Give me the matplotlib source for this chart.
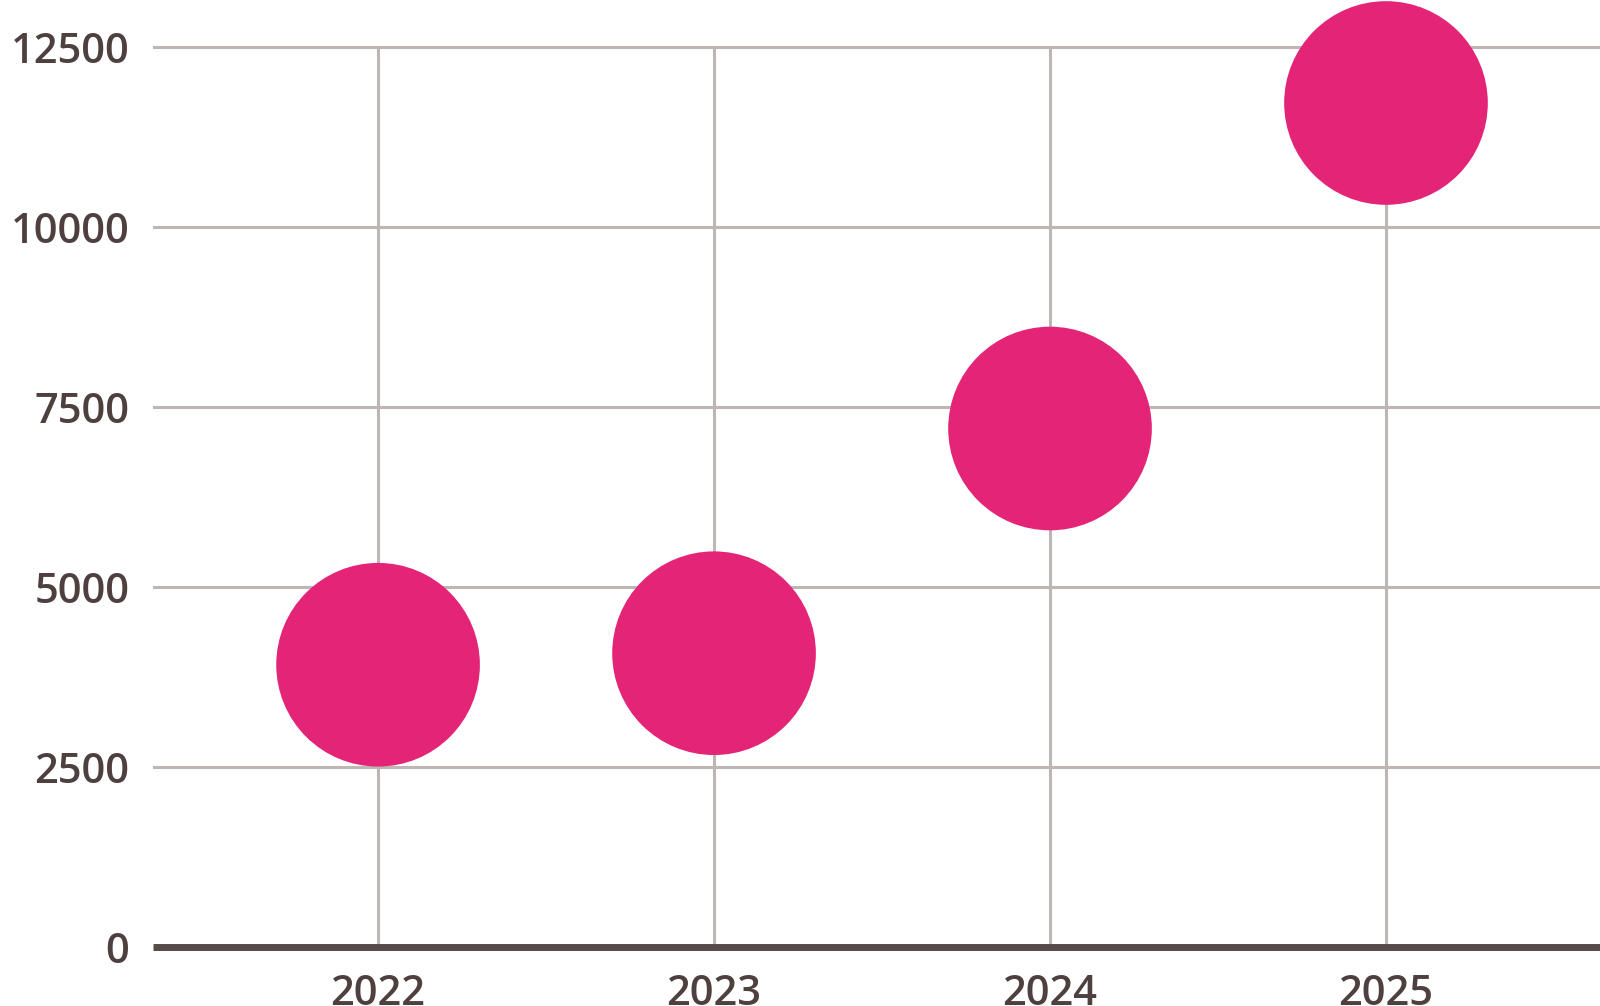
import matplotlib.pyplot as plt

years = [2022, 2023, 2024, 2025]
values = [3920, 4080, 7200, 11720]
y_ticks = [0, 2500, 5000, 7500, 10000, 12500]

pink = "#E32477"
grid_col = "#BDB6B3"
text_col = "#4D403E"
base_col = "#574A48"

fig = plt.figure(figsize=(16, 10.06), dpi=100)
ax = fig.add_axes([0.0956, 0.0586, 0.9044, 0.9414])

# horizontal grid lines
for t in y_ticks[1:]:
    ax.axhline(t, color=grid_col, lw=2.2, zorder=1)
# vertical lines only up to the top tick
ax.vlines(years, 0, y_ticks[-1], color=grid_col, lw=2.2, zorder=1)
ax.axhline(0, color=base_col, lw=5, zorder=2, clip_on=False, solid_capstyle="butt")

ax.scatter(years, values, s=21500, color=pink, edgecolors="none", zorder=3, clip_on=False)

ax.set_xlim(2021.33, 2025.637)
ax.set_ylim(0, 13150)
ax.set_xticks(years)
ax.set_yticks(y_ticks)
ax.tick_params(length=0, labelsize=30, labelcolor=text_col)
ax.tick_params(axis="y", pad=17)
ax.tick_params(axis="x", pad=19)
for lab in ax.get_xticklabels() + ax.get_yticklabels():
    lab.set_fontfamily("Open Sans")
    lab.set_fontweight("semibold")
for s in ax.spines.values():
    s.set_visible(False)

fig.savefig("out.png", dpi=100)
